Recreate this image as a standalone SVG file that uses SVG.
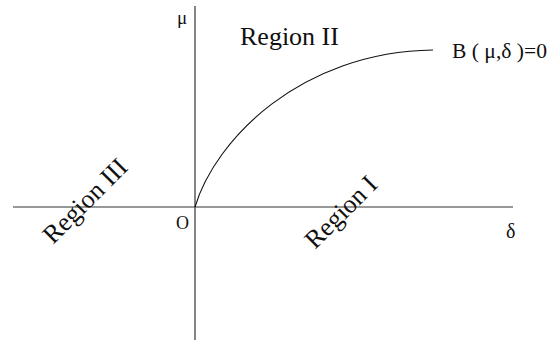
<svg xmlns="http://www.w3.org/2000/svg" width="555" height="342" viewBox="0 0 555 342">
<style>
.t{font-family:"Liberation Serif","Times New Roman",serif;fill:#111}
.ax{stroke:#333;stroke-width:1.2;fill:none}
.cv{stroke:#111;stroke-width:1.1;fill:none}
</style>
<rect width="555" height="342" fill="#fff"/>
<g id="connectors">
<line class="ax" x1="195" y1="6" x2="195" y2="340"/>
<line class="ax" x1="13" y1="207" x2="513" y2="207"/>
<path class="cv" d="M195,207 C215,140 300,52 433,50"/>
</g>
<g id="axis-mu"><text class="t" x="177" y="24" font-size="19">μ</text></g>
<g id="axis-delta"><text class="t" x="506" y="238" font-size="20">δ</text></g>
<g id="origin"><text class="t" x="176" y="229" font-size="18">O</text></g>
<g id="region-II"><text class="t" x="240" y="45" font-size="26">Region II</text></g>
<g id="curve-label"><text class="t" x="452" y="58" font-size="21" textLength="95" lengthAdjust="spacingAndGlyphs">B ( μ,δ )=0</text></g>
<g id="region-III"><text class="t" x="0" y="0" font-size="26" text-anchor="middle" transform="translate(91,207) rotate(-45)">Region III</text></g>
<g id="region-I"><text class="t" x="0" y="0" font-size="26" text-anchor="middle" transform="translate(347,218) rotate(-45)">Region I</text></g>
</svg>
